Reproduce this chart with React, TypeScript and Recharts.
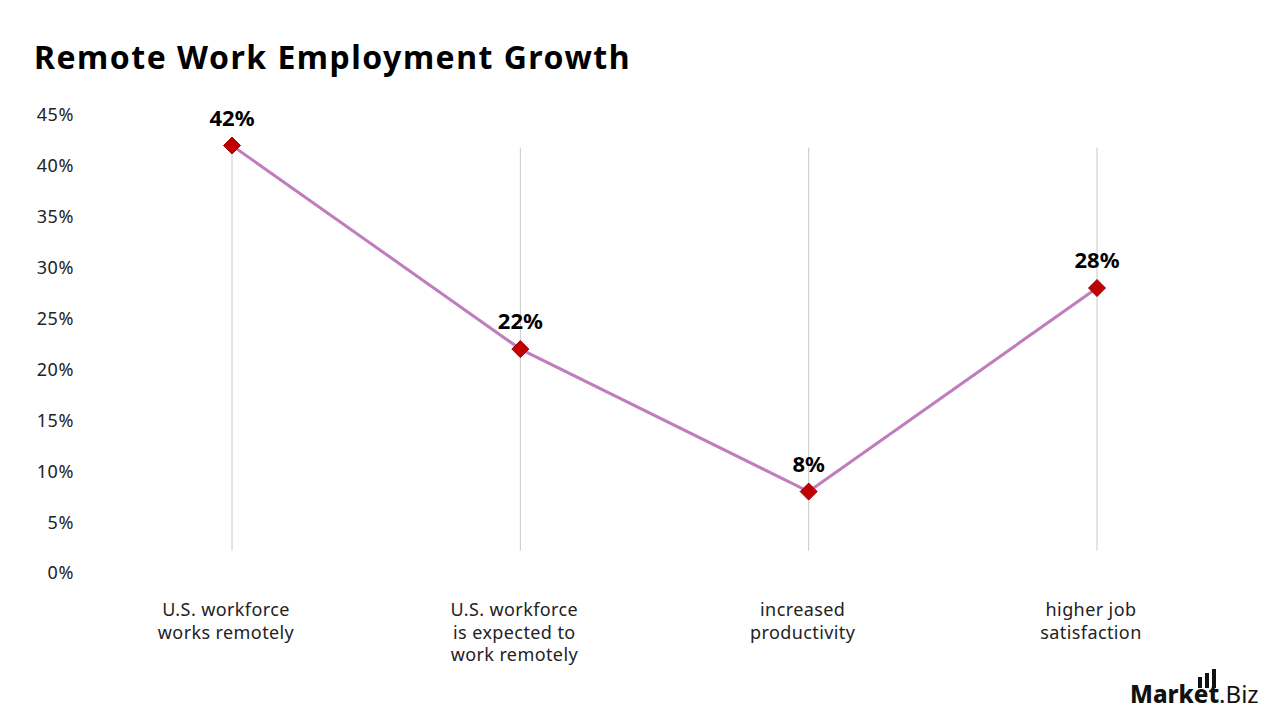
import React from "react";
import {
  LineChart,
  Line,
  XAxis,
  YAxis,
  LabelList,
  ReferenceLine,
} from "recharts";

const categories = [
  "U.S. workforce|works remotely",
  "U.S. workforce|is expected to|work remotely",
  "increased|productivity",
  "higher job|satisfaction",
];
const shares = [42, 22, 8, 28];
const yTicks = [0, 5, 10, 15, 20, 25, 30, 35, 40, 45];
// vertical drop lines run between these two values
const dropTop = 41.8;
const dropBottom = 2.2;

const data = categories.map((name, i) => ({ name, value: shares[i] }));

const FONT = "'Noto Sans', sans-serif";

const Diamond = (props: any) => {
  const { cx, cy } = props;
  if (cx == null || cy == null) return null;
  const r = 8.5;
  return (
    <path
      d={`M${cx},${cy - r} L${cx + r},${cy} L${cx},${cy + r} L${cx - r},${cy} Z`}
      fill="#C00000"
      stroke="#9A0000"
      strokeWidth={1}
    />
  );
};

const CategoryTick = (props: any) => {
  const { x, y, payload } = props;
  const lines = String(payload.value).split("|");
  return (
    <text
      x={x}
      y={y}
      textAnchor="middle"
      fill="#222"
      fontSize={18}
      fontFamily={FONT}
      letterSpacing={0.4}
    >
      {lines.map((l, i) => (
        <tspan key={i} x={x - 6} dy={i === 0 ? 35 : 22.5}>
          {l}
        </tspan>
      ))}
    </text>
  );
};

function Logo() {
  return (
    <svg
      width={140}
      height={50}
      style={{ position: "absolute", left: 1125, top: 665 }}
    >
      <rect x={73} y={12} width={4} height={11} fill="#111" />
      <rect x={80} y={8} width={4} height={15} fill="#111" />
      <rect x={87} y={4} width={4} height={19} fill="#111" />
      <text x={5} y={38} fontFamily={FONT} fontSize={24} fill="#111">
        <tspan fontWeight={800}>Market</tspan>
        <tspan fontWeight={400}>.Biz</tspan>
      </text>
    </svg>
  );
}

export default function App() {
  return (
    <div
      style={{
        position: "absolute",
        left: 0,
        top: 0,
        width: 1280,
        height: 720,
        background: "#fff",
        fontFamily: FONT,
      }}
    >
      <div
        style={{
          position: "absolute",
          left: 34,
          top: 35,
          fontSize: 32,
          fontWeight: 700,
          letterSpacing: 1.5,
          color: "#000",
        }}
      >
        Remote Work Employment Growth
      </div>
      <LineChart
        width={1280}
        height={720}
        data={data}
        margin={{ top: 115, right: 39, bottom: 47, left: 8 }}
      >
        <XAxis
          dataKey="name"
          axisLine={false}
          tickLine={false}
          padding={{ left: 144, right: 144 }}
          height={100}
          interval={0}
          tick={<CategoryTick />}
        />
        <YAxis
          domain={[0, 45]}
          ticks={yTicks}
          width={80}
          axisLine={false}
          tickLine={false}
          tickFormatter={(v: number) => `${v}%`}
          tick={{ fontSize: 18, fill: "#222", fontFamily: FONT, textAnchor: "end", letterSpacing: 0.6 }}
          tickMargin={8}
        />
        {categories.map((c) => (
          <ReferenceLine
            key={c}
            segment={[
              { x: c, y: dropBottom },
              { x: c, y: dropTop },
            ]}
            stroke="#c8c8c8"
            strokeWidth={1}
          />
        ))}
        <Line
          dataKey="value"
          stroke="#C07DBD"
          strokeWidth={3}
          dot={<Diamond />}
          activeDot={false}
          isAnimationActive={false}
        >
          <LabelList
            dataKey="value"
            position="top"
            offset={20}
            formatter={(v: number) => `${v}%`}
            fill="#000"
            fontSize={22}
            fontWeight={700}
            fontFamily={FONT}
          />
        </Line>
      </LineChart>
      <Logo />
    </div>
  );
}
